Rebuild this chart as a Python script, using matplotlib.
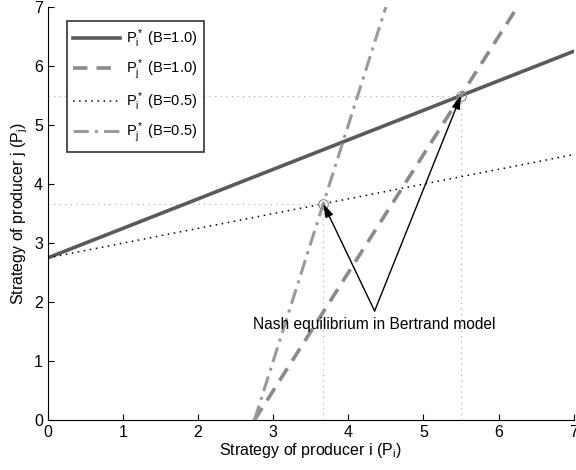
import matplotlib
matplotlib.use("Agg")
import matplotlib.pyplot as plt

plt.rcParams["font.family"] = ["Liberation Sans", "DejaVu Sans"]
plt.rcParams["mathtext.fontset"] = "custom"
plt.rcParams["mathtext.rm"] = "Liberation Sans"
plt.rcParams["mathtext.it"] = "Liberation Sans"
plt.rcParams["mathtext.default"] = "regular"

# best-response lines, given by their end points
pi_b1_x = [0.0, 7.0]
pi_b1_y = [2.75, 6.25]
pj_b1_x = [2.75, 6.25]
pj_b1_y = [0.0, 7.0]
pi_b05_x = [0.0, 7.0]
pi_b05_y = [2.75, 4.5]
pj_b05_x = [2.75, 4.5]
pj_b05_y = [0.0, 7.0]

# Nash equilibria
eq_x = [5.5, 3.667]
eq_y = [5.5, 3.667]

labels = [r"$P_i^*$ (B=1.0)", r"$P_j^*$ (B=1.0)",
          r"$P_i^*$ (B=0.5)", r"$P_j^*$ (B=0.5)"]
note = "Nash equilibrium in Bertrand model"
note_xy = (4.35, 1.85)

fig = plt.figure(figsize=(5.76, 4.70), dpi=100)
ax = fig.add_axes([0.083, 0.106, 0.913, 0.879])

# dotted guides to the axes
for x, y in zip(eq_x, eq_y):
    ax.plot([0, x], [y, y], color="#aaaaaa", lw=0.8, ls=(0, (1, 4)))
    ax.plot([x, x], [0, y], color="#aaaaaa", lw=0.8, ls=(0, (1, 4)))

ax.plot(pi_b1_x, pi_b1_y, color="#5a5a5a", lw=2.6, label=labels[0])
ax.plot(pj_b1_x, pj_b1_y, color="#8a8a8a", lw=2.6, ls=(0, (4, 2.5)), label=labels[1])
ax.plot(pi_b05_x, pi_b05_y, color="black", lw=1.1, ls=(0, (1, 3)), label=labels[2])
ax.plot(pj_b05_x, pj_b05_y, color="#9a9a9a", lw=2.2, ls=(0, (5, 2, 1, 2)), label=labels[3])

ax.plot(eq_x, eq_y, ls="none", marker="o", ms=7, mfc="none", mec="#888888", mew=0.8)

for x, y in zip(eq_x, eq_y):
    ax.annotate("", xy=(x, y), xytext=note_xy,
                arrowprops=dict(arrowstyle="-|>,head_length=0.8,head_width=0.25",
                                color="black", lw=1.0, shrinkA=0, shrinkB=0))
ax.text(note_xy[0], note_xy[1] - 0.1, note, ha="center", va="top", fontsize=11.2)

ax.set_xlim(0, 7)
ax.set_ylim(0, 7)
ax.set_xticks(range(8))
ax.set_yticks(range(8))
ax.tick_params(direction="in", length=4, labelsize=11.5)
ax.spines["top"].set_visible(False)
ax.spines["right"].set_visible(False)
ax.set_xlabel(r"Strategy of producer i ($P_i$)", fontsize=11.5, labelpad=1)
ax.set_ylabel(r"Strategy of producer j ($P_j$)", fontsize=11.5, labelpad=3)

leg = ax.legend(loc="upper left", bbox_to_anchor=(0.022, 0.985), fontsize=10.5,
                frameon=True, fancybox=False, edgecolor="black",
                handlelength=3.2, handletextpad=0.4, labelspacing=0.55,
                borderpad=0.45)
leg.get_frame().set_linewidth(1.2)

fig.savefig("out.png", dpi=100)
